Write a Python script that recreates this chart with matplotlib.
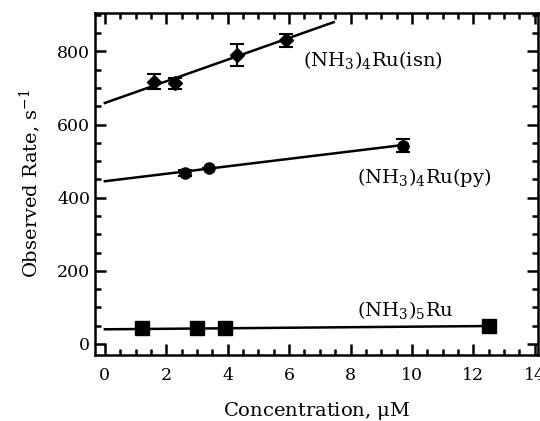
import numpy as np
import matplotlib.pyplot as plt
from matplotlib.ticker import MultipleLocator

plt.rcParams['font.family'] = 'DejaVu Serif'
plt.rcParams['mathtext.fontset'] = 'dejavuserif'

# (NH3)5Ru
conc_a = [1.2, 3.0, 3.9, 12.5]
rate_a = [44, 44, 44, 50]
fit_a = ([0, 12.5], [40, 49])

# (NH3)4Ru(py)
conc_py = [2.6, 3.4, 9.7]
rate_py = [467, 482, 542]
err_py = [9, 0, 18]
fit_py = ([0, 9.8], [445, 545])

# (NH3)4Ru(isn)
conc_isn = [1.6, 2.3, 4.3, 5.9]
rate_isn = [717, 713, 790, 830]
err_isn = [20, 15, 29, 18]
fit_isn = ([0, 7.45], [659, 880])

fig = plt.figure(figsize=(5.4, 4.21), dpi=100)
ax = fig.add_axes([0.176, 0.157, 0.82, 0.812])

ax.plot(*fit_a, color='black', lw=1.8)
ax.plot(*fit_py, color='black', lw=1.8)
ax.plot(*fit_isn, color='black', lw=1.8)

ax.plot(conc_a, rate_a, 's', color='black', ms=9.5)
ax.errorbar(conc_py, rate_py, yerr=err_py, fmt='o', color='black', ms=8,
            capsize=5, elinewidth=1.5, capthick=1.5)
ax.errorbar(conc_isn, rate_isn, yerr=err_isn, fmt='D', color='black', ms=7,
            capsize=5, elinewidth=1.5, capthick=1.5)

ax.text(6.45, 776, r'(NH$_3$)$_4$Ru(isn)', fontsize=14, va='center')
ax.text(8.2, 456, r'(NH$_3$)$_4$Ru(py)', fontsize=14, va='center')
ax.text(8.2, 93, r'(NH$_3$)$_5$Ru', fontsize=14, va='center')

ax.set_xlim(-0.32, 14.1)
ax.set_ylim(-30, 905)
ax.xaxis.set_major_locator(MultipleLocator(2))
ax.xaxis.set_minor_locator(MultipleLocator(0.5))
ax.yaxis.set_major_locator(MultipleLocator(200))
ax.yaxis.set_minor_locator(MultipleLocator(50))
ax.tick_params(which='both', direction='in', top=True, right=True,
               labelsize=12.5, width=1.8)
ax.tick_params(which='major', length=8)
ax.tick_params(which='minor', length=4)
ax.tick_params(axis='x', pad=9)
for s in ax.spines.values():
    s.set_linewidth(1.8)

ax.set_xlabel(r'Concentration, $\mathrm{\mu}$M', fontsize=14, labelpad=11)
ax.set_ylabel(r'Observed Rate, s$^{\mathregular{-1}}$', fontsize=14, labelpad=10)

fig.savefig('out.png', dpi=100)
